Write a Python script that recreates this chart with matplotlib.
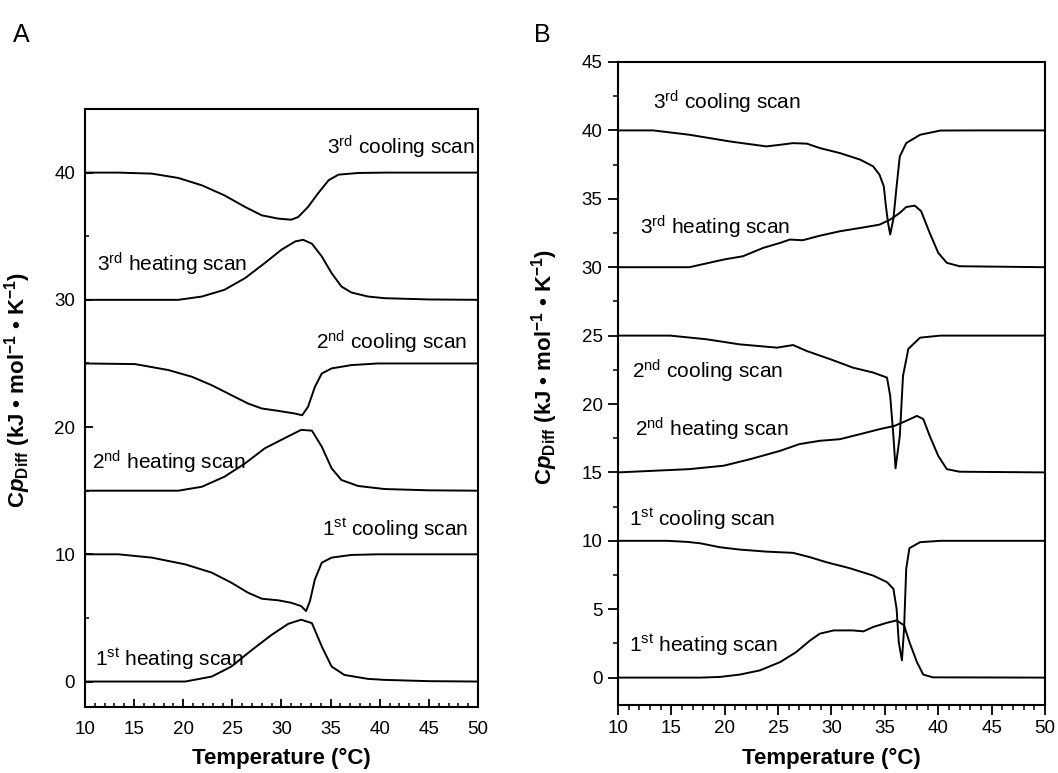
import numpy as np
import matplotlib
matplotlib.use("Agg")
import matplotlib.pyplot as plt
from matplotlib.ticker import MultipleLocator

plt.rcParams['font.family'] = ['Liberation Sans', 'DejaVu Sans']
plt.rcParams['mathtext.fontset'] = 'custom'
plt.rcParams['mathtext.rm'] = 'Liberation Sans'
plt.rcParams['mathtext.it'] = 'Liberation Sans:italic'
plt.rcParams['mathtext.bf'] = 'Liberation Sans:bold'
plt.rcParams['mathtext.bfit'] = 'Liberation Sans:bold:italic'

# ---- panel A data (temperature in C, Cp offset curves) ----
a_cool3_t = [10, 13.4, 16.8, 19.5, 21.9, 24.2, 26.3, 28.0, 29.7, 31.0, 31.7, 32.7, 33.7, 34.8,
             35.8, 37.8, 40.5, 50]
a_cool3_v = [40, 40.0, 39.92, 39.58, 39.0, 38.21, 37.3, 36.64, 36.38, 36.3, 36.51, 37.3, 38.35, 39.4,
             39.84, 39.97, 40.0, 40]
a_heat3_t = [10, 19.5, 21.9, 24.2, 26.3, 28.3, 30.0, 31.4, 32.2, 33.1, 34.1, 35.1, 36.1, 37.1,
             38.8, 40.5, 45, 50]
a_heat3_v = [30, 30.0, 30.26, 30.79, 31.71, 32.89, 33.94, 34.59, 34.72, 34.41, 33.41, 32.1, 31.05,
             30.58, 30.26, 30.13, 30.03, 30]
a_cool2_t = [10, 15.1, 18.5, 20.9, 22.9, 24.9, 26.6, 28.0, 29.7, 31.4, 32.1, 32.7, 33.4, 34.1,
             35.1, 37.1, 39.8, 50]
a_cool2_v = [25, 24.95, 24.48, 23.95, 23.29, 22.51, 21.85, 21.46, 21.27, 21.06, 20.93, 21.59, 23.16,
             24.21, 24.61, 24.87, 25.0, 25]
a_heat2_t = [10, 19.5, 21.9, 24.2, 26.3, 28.3, 30.3, 32.0, 33.1, 34.1, 35.1, 36.1, 37.8, 40.5,
             45, 50]
a_heat2_v = [15, 15.0, 15.31, 16.1, 17.15, 18.33, 19.12, 19.78, 19.72, 18.46, 16.76, 15.84, 15.37,
             15.13, 15.03, 15]
a_cool1_t = [10, 13.4, 16.8, 20.2, 22.9, 24.9, 26.6, 28.0, 29.7, 31.0, 32.0, 32.5, 32.9, 33.4,
             34.1, 35.1, 37.1, 39.8, 50]
a_cool1_v = [10, 10.0, 9.74, 9.21, 8.56, 7.77, 6.98, 6.51, 6.38, 6.19, 5.93, 5.54, 6.33, 8.03,
             9.34, 9.74, 9.95, 10.0, 10]
a_heat1_t = [10, 20.2, 22.9, 24.9, 27.0, 29.0, 30.7, 32.0, 33.1, 34.1, 35.1, 36.4, 38.8, 40.5,
             45, 50]
a_heat1_v = [0, 0.0, 0.39, 1.18, 2.49, 3.67, 4.54, 4.86, 4.59, 2.76, 1.18, 0.52, 0.21, 0.13,
             0.03, 0]

# ---- panel B data ----
b_cool3_t = [10, 13.3, 16.7, 20.5, 23.9, 25.2, 26.4, 27.7, 28.9, 30.8, 32.7, 33.9, 34.5, 34.9,
             35.1, 35.3, 35.5, 35.8, 36.1, 36.4, 37.0, 38.3, 40.2, 43.9, 50]
b_cool3_v = [40, 40.0, 39.68, 39.19, 38.83, 38.95, 39.07, 39.03, 38.71, 38.34, 37.86, 37.37, 36.76,
             35.91, 34.45, 33.24, 32.39, 33.53, 35.91, 38.1, 39.07, 39.68, 39.99, 40.0, 40]
b_heat3_t = [10, 16.7, 19.9, 21.7, 23.6, 25.2, 26.1, 27.3, 28.9, 30.8, 32.7, 34.5, 35.5, 36.4,
             37.0, 37.8, 38.4, 39.2, 40.0, 40.8, 42.0, 50]
b_heat3_v = [30, 30.0, 30.56, 30.8, 31.41, 31.78, 32.02, 31.97, 32.3, 32.63, 32.87, 33.11, 33.48,
             33.97, 34.4, 34.5, 34.09, 32.51, 31.05, 30.32, 30.07, 30]
b_cool2_t = [10, 14.9, 18.3, 21.4, 24.9, 26.4, 27.7, 29.9, 32.0, 33.9, 35.2, 35.5, 35.8, 36.0,
             36.4, 36.7, 37.2, 38.3, 40.2, 50]
b_cool2_v = [25, 25.0, 24.73, 24.36, 24.12, 24.31, 23.87, 23.27, 22.66, 22.3, 21.93, 20.59, 17.67,
             15.3, 17.67, 22.05, 24.03, 24.85, 25.0, 25]
b_heat2_t = [10, 16.7, 19.9, 22.4, 25.2, 27.0, 28.9, 30.8, 32.7, 34.5, 35.9, 37.0, 38.0, 38.6,
             39.2, 40.0, 40.8, 42.0, 50]
b_heat2_v = [15, 15.24, 15.49, 15.97, 16.58, 17.07, 17.31, 17.43, 17.8, 18.16, 18.4, 18.77, 19.13,
             18.9, 17.67, 16.21, 15.24, 15.05, 15]
b_cool1_t = [10, 14.6, 16.5, 17.7, 19.55, 21.4, 23.9, 26.4, 28.0, 29.5, 31.7, 33.9, 35.2, 35.8,
             36.1, 36.3, 36.6, 36.8, 37.0, 37.3, 38.3, 40.2, 50]
b_cool1_v = [10, 10.0, 9.92, 9.82, 9.53, 9.36, 9.21, 9.12, 8.8, 8.44, 8.0, 7.46, 6.98, 6.49,
             5.03, 2.6, 1.26, 3.57, 7.95, 9.46, 9.9, 10.0, 10]
b_heat1_t = [10, 17.7, 19.55, 21.4, 23.3, 25.2, 26.7, 28.0, 28.9, 30.2, 32.0, 33.0, 33.9, 35.2,
             36.1, 36.8, 37.3, 38.0, 38.6, 39.5, 50]
b_heat1_v = [0, 0.0, 0.05, 0.22, 0.53, 1.14, 1.87, 2.72, 3.21, 3.45, 3.45, 3.38, 3.7, 4.01,
             4.18, 3.82, 2.6, 1.14, 0.22, 0.02, 0]

# label text and anchor (T, value) for each curve
a_labels = [("3$^{\\rm rd}$ cooling scan", 34.6, 41.4),
            ("3$^{\\rm rd}$ heating scan", 11.2, 32.2),
            ("2$^{\\rm nd}$ cooling scan", 33.5, 26.1),
            ("2$^{\\rm nd}$ heating scan", 10.7, 16.7),
            ("1$^{\\rm st}$ cooling scan", 34.1, 11.4),
            ("1$^{\\rm st}$ heating scan", 11.0, 1.2)]
b_labels = [("3$^{\\rm rd}$ cooling scan", 13.3, 41.55),
            ("3$^{\\rm rd}$ heating scan", 12.1, 32.4),
            ("2$^{\\rm nd}$ cooling scan", 11.3, 21.9),
            ("2$^{\\rm nd}$ heating scan", 11.6, 17.6),
            ("1$^{\\rm st}$ cooling scan", 11.0, 11.1),
            ("1$^{\\rm st}$ heating scan", 11.0, 1.9)]

ylab = r'C$\mathbfit{p}_{\mathbf{Diff}}$ (kJ • mol$^{\mathbf{-1}}$ • K$^{\mathbf{-1}}$)'

fig = plt.figure(figsize=(10.58, 7.73), dpi=100)
axA = fig.add_axes([0.0803, 0.0854, 0.3715, 0.7736])
axB = fig.add_axes([0.5841, 0.0880, 0.4036, 0.8318])

curvesA = [(a_cool3_t, a_cool3_v), (a_heat3_t, a_heat3_v), (a_cool2_t, a_cool2_v),
           (a_heat2_t, a_heat2_v), (a_cool1_t, a_cool1_v), (a_heat1_t, a_heat1_v)]
curvesB = [(b_cool3_t, b_cool3_v), (b_heat3_t, b_heat3_v), (b_cool2_t, b_cool2_v),
           (b_heat2_t, b_heat2_v), (b_cool1_t, b_cool1_v), (b_heat1_t, b_heat1_v)]

for ax, curves, labels in [(axA, curvesA, a_labels), (axB, curvesB, b_labels)]:
    for t, v in curves:
        ax.plot(t, v, color='black', lw=1.4, solid_joinstyle='round')
    for txt, tx, ty in labels:
        ax.text(tx, ty, txt, fontsize=15, ha='left', va='baseline')
    ax.set_xlim(10, 50)
    ax.set_ylim(-2, 45)
    ax.xaxis.set_major_locator(MultipleLocator(5))
    ax.xaxis.set_minor_locator(MultipleLocator(1))
    for s in ax.spines.values():
        s.set_linewidth(1.5)
    ax.set_ylabel(ylab, fontsize=16, fontweight='bold')
    ax.tick_params(labelsize=13.5)

axA.set_xlabel('Temperature (°C)', fontsize=16, fontweight='bold', labelpad=7)
axB.set_xlabel('Temperature (°C)', fontsize=16, fontweight='bold', labelpad=8)

axA.yaxis.set_major_locator(MultipleLocator(10))
axA.yaxis.set_minor_locator(MultipleLocator(5))
axA.tick_params(which='major', direction='in', length=6, width=1.3)
axA.tick_params(which='minor', direction='in', length=3, width=1.1)
axA.tick_params(axis='x', which='major', pad=10)
axA.tick_params(axis='y', which='major', pad=7)
axA.yaxis.set_label_coords(-0.133, 0.53)

axB.yaxis.set_major_locator(MultipleLocator(5))
axB.yaxis.set_minor_locator(MultipleLocator(2.5))
axB.tick_params(which='major', direction='out', length=7, width=1.3, pad=4)
axB.tick_params(which='minor', direction='out', length=3.5, width=1.1)
axB.yaxis.set_label_coords(-0.135, 0.525)

fig.text(0.012, 0.955, 'A', fontsize=18, ha='left', va='center')
fig.text(0.505, 0.955, 'B', fontsize=18, ha='left', va='center')

fig.savefig('out.png', dpi=100)
